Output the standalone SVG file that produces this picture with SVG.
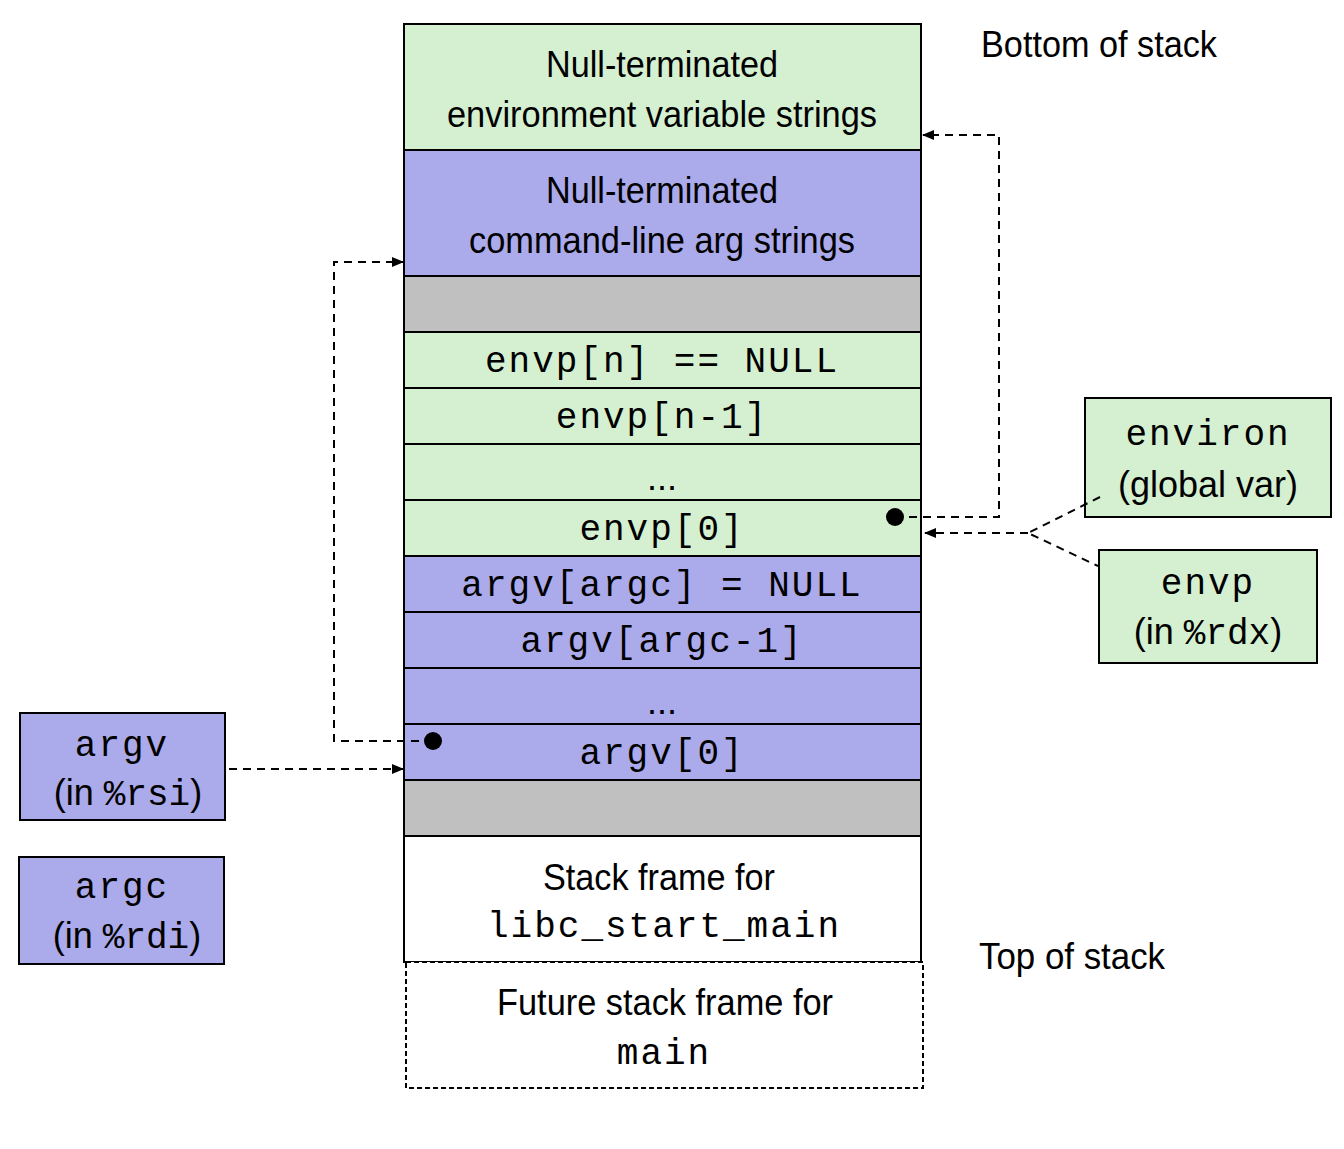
<svg xmlns="http://www.w3.org/2000/svg" width="1344" height="1149" viewBox="0 0 1344 1149">
<style>
.g{fill:#d5f0d0;stroke:#000;stroke-width:2}
.p{fill:#abaaea;stroke:#000;stroke-width:2}
.gr{fill:#c0c0c0;stroke:#000;stroke-width:2}
.w{fill:#fff;stroke:#000;stroke-width:2}
.s{font-family:"Liberation Sans",Arial,sans-serif;font-size:36px;fill:#000;text-anchor:middle}
.m{font-family:"Liberation Mono","Courier New",monospace;font-size:36px;fill:#000;text-anchor:middle;letter-spacing:2px}
.d{fill:none;stroke:#000;stroke-width:2;stroke-dasharray:8,6}
</style>
<defs><marker id="a" markerWidth="12" markerHeight="10" refX="11" refY="5" orient="auto" markerUnits="userSpaceOnUse"><path d="M0,0L12,5L0,10z" fill="#000"/></marker></defs>
<g id="env-strings"><rect class="g" x="404" y="24" width="517" height="126"/><text class="s" x="662" y="77" textLength="232" lengthAdjust="spacingAndGlyphs">Null-terminated</text><text class="s" x="662" y="127" textLength="430" lengthAdjust="spacingAndGlyphs">environment variable strings</text></g>
<g id="arg-strings"><rect class="p" x="404" y="150" width="517" height="126"/><text class="s" x="662" y="203" textLength="232" lengthAdjust="spacingAndGlyphs">Null-terminated</text><text class="s" x="662" y="253" textLength="386" lengthAdjust="spacingAndGlyphs">command-line arg strings</text></g>
<g id="pad1"><rect class="gr" x="404" y="276" width="517" height="56"/></g>
<g id="envp-n"><rect class="g" x="404" y="332" width="517" height="56"/><text class="m" x="662" y="372">envp[n] == NULL</text></g>
<g id="envp-n1"><rect class="g" x="404" y="388" width="517" height="56"/><text class="m" x="662" y="428">envp[n-1]</text></g>
<g id="envp-dots"><rect class="g" x="404" y="444" width="517" height="56"/><text class="s" x="662" y="490">...</text></g>
<g id="envp-0"><rect class="g" x="404" y="500" width="517" height="56"/><text class="m" x="662" y="540">envp[0]</text></g>
<g id="argv-argc"><rect class="p" x="404" y="556" width="517" height="56"/><text class="m" x="662" y="596">argv[argc] = NULL</text></g>
<g id="argv-argc1"><rect class="p" x="404" y="612" width="517" height="56"/><text class="m" x="662" y="652">argv[argc-1]</text></g>
<g id="argv-dots"><rect class="p" x="404" y="668" width="517" height="56"/><text class="s" x="662" y="714">...</text></g>
<g id="argv-0"><rect class="p" x="404" y="724" width="517" height="56"/><text class="m" x="662" y="764">argv[0]</text></g>
<g id="pad2"><rect class="gr" x="404" y="780" width="517" height="56"/></g>
<g id="libc-frame"><rect class="w" x="404" y="836" width="517" height="126"/><text class="s" x="659" y="890" textLength="232" lengthAdjust="spacingAndGlyphs">Stack frame for</text><text class="m" x="664" y="937">libc_start_main</text></g>
<g id="main-frame"><rect x="406" y="962" width="517" height="126" fill="#fff" stroke="#000" stroke-width="2" stroke-dasharray="5,3"/><text class="s" x="665" y="1015" textLength="336" lengthAdjust="spacingAndGlyphs">Future stack frame for</text><text class="m" x="664" y="1064">main</text></g>
<g id="labels"><text class="s" x="1099" y="57" textLength="236" lengthAdjust="spacingAndGlyphs">Bottom of stack</text><text class="s" x="1072" y="969" textLength="186" lengthAdjust="spacingAndGlyphs">Top of stack</text></g>
<g id="environ"><rect class="g" x="1085" y="398" width="246" height="119"/><text class="m" x="1208" y="445">environ</text><text class="s" x="1208" y="497">(global var)</text></g>
<g id="envp-reg"><rect class="g" x="1099" y="550" width="218" height="113"/><text class="m" x="1208" y="594">envp</text><text class="s" x="1208" y="644">(in <tspan font-family="Liberation Mono,monospace">%rdx</tspan>)</text></g>
<g id="argv-reg"><rect class="p" x="20" y="713" width="205" height="107"/><text class="m" x="122" y="756">argv</text><text class="s" x="128" y="805">(in <tspan font-family="Liberation Mono,monospace">%rsi</tspan>)</text></g>
<g id="argc-reg"><rect class="p" x="19" y="857" width="205" height="107"/><text class="m" x="122" y="898">argc</text><text class="s" x="127" y="948">(in <tspan font-family="Liberation Mono,monospace">%rdi</tspan>)</text></g>
<g id="connectors">
<circle cx="895" cy="517" r="9"/><circle cx="433" cy="741" r="9"/>
<path class="d" d="M895,517H999V135H923" marker-end="url(#a)"/>
<path class="d" d="M433,741H334V262H403" marker-end="url(#a)"/>
<path class="d" d="M1100,497L1028,533L1098,566M1028,533H925" marker-end="url(#a)"/>
<path class="d" d="M229,769H403" marker-end="url(#a)"/>
</g>
</svg>
